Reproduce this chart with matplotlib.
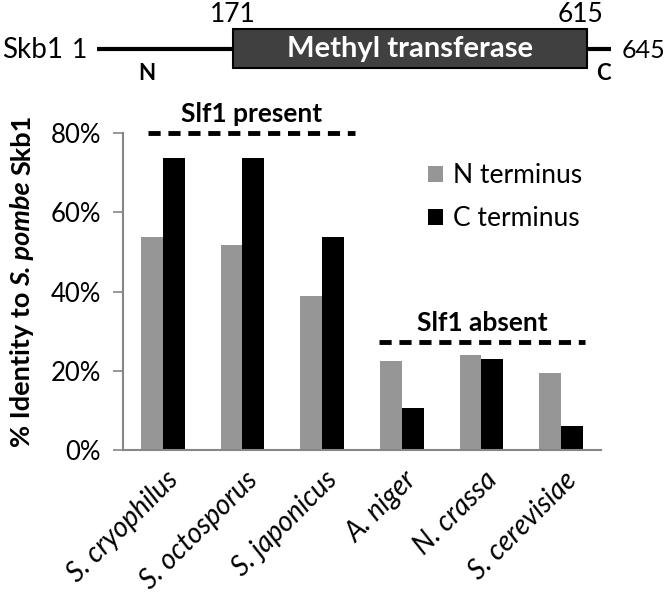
import matplotlib
matplotlib.use("Agg")
import matplotlib.pyplot as plt
import matplotlib.transforms as mtransforms
import numpy as np
from matplotlib.patches import Rectangle
from matplotlib.ticker import PercentFormatter

plt.rcParams['font.family'] = ['Lato', 'DejaVu Sans']

# ---------- data ----------
species = ["S. cryophilus", "S. octosporus", "S. japonicus",
           "A. niger", "N. crassa", "S. cerevisiae"]
n_term = [0.537, 0.518, 0.389, 0.224, 0.239, 0.194]
c_term = [0.738, 0.738, 0.537, 0.105, 0.229, 0.061]
series_labels = ["N terminus", "C terminus"]

# domain map of Skb1 (residues)
protein_len = 645
domain_start, domain_end = 171, 615
domain_name = "Methyl transferase"

# groups of species marked above the bars (x span in category units, y level)
group_names = ["Slf1 present", "Slf1 absent"]
group_spans = [(-0.19, 2.41), (2.71, 5.30)]
group_levels = [0.80, 0.273]

GRAY = "#969696"
AXIS_GRAY = "#868686"
W, H = 666, 597

fig = plt.figure(figsize=(W / 100, H / 100), dpi=100)


def px(x, y, w, h):
    # pixel box (from top-left) -> figure fraction
    return [x / W, 1 - (y + h) / H, w / W, h / H]


# ---------- top: domain diagram ----------
axt = fig.add_axes(px(97, 0, 514, 90))
axt.set_xlim(1, protein_len)
axt.set_ylim(90, 0)
axt.axis("off")
axt.plot([1, protein_len], [49, 49], color="black", lw=3, solid_capstyle="butt", zorder=1)
axt.add_patch(Rectangle((domain_start, 29), domain_end - domain_start, 39,
                        facecolor="#404040", edgecolor="black", lw=1.5, zorder=2))
axt.text((domain_start + domain_end) / 2, 49, domain_name, color="white",
         fontsize=21, fontweight="bold", ha="center", va="center", zorder=3)
axt.text(domain_start, 22, str(domain_start), fontsize=19, ha="center", va="baseline")
axt.text(domain_end - 8, 22, str(domain_end), fontsize=19, ha="center", va="baseline")
axt.text(-11, 50, "1", fontsize=19, ha="right", va="center", clip_on=False)
axt.text(protein_len + 13, 50, str(protein_len), fontsize=18, ha="left", va="center", clip_on=False)
axt.text(-41, 50, "Skb1", fontsize=20, ha="right", va="center", clip_on=False)
axt.text(63, 80, "N", fontsize=16, fontweight="bold", ha="center", va="baseline")
axt.text(636, 80, "C", fontsize=16, fontweight="bold", ha="center", va="baseline", clip_on=False)

# ---------- bar chart ----------
ax = fig.add_axes(px(123, 133, 478, 317))
x = np.arange(len(species))
bw = 0.272
b1 = ax.bar(x - bw / 2, n_term, bw, color=GRAY, label=series_labels[0])
b2 = ax.bar(x + bw / 2, c_term, bw, color="black", label=series_labels[1])

ax.set_xlim(-0.5, len(species) - 0.5)
ax.set_ylim(0, 0.8)
ax.set_yticks([0, 0.2, 0.4, 0.6, 0.8])
ax.yaxis.set_major_formatter(PercentFormatter(1.0, decimals=0))
ax.tick_params(axis="y", labelsize=18.5, length=7, width=1.2, color=AXIS_GRAY, pad=9)
ax.set_xticks(x)
ax.set_xticklabels(species, rotation=45, ha="right", va="top",
                   rotation_mode="anchor", fontsize=20, style="italic")
ax.tick_params(axis="x", length=0, pad=12)
shift = mtransforms.ScaledTranslation(2 / 100, 0, fig.dpi_scale_trans)
for lab in ax.get_xticklabels():
    lab.set_transform(lab.get_transform() + shift)
for s in ["top", "right"]:
    ax.spines[s].set_visible(False)
for s in ["left", "bottom"]:
    ax.spines[s].set_color(AXIS_GRAY)
    ax.spines[s].set_linewidth(1.5)

for name, (x0, x1), lvl in zip(group_names, group_spans, group_levels):
    ax.plot([x0, x1], [lvl, lvl], color="black", lw=3.5,
            linestyle=(0, (2.5, 1.6)), dash_capstyle="butt", clip_on=False)
    ax.annotate(name, xy=((x0 + x1) / 2, lvl), xytext=(0, 8), textcoords="offset points",
                ha="center", va="baseline", fontsize=19, fontweight="bold",
                annotation_clip=False)

ax.legend(handles=[b1, b2], loc="upper left", bbox_to_anchor=((428 - 123) / 478, (450 - 163) / 317),
          frameon=False, fontsize=19, handlelength=0.55, handleheight=0.55,
          handletextpad=0.4, labelspacing=0.7, borderaxespad=0, borderpad=0)

# ---------- y label with italic species name ----------
pieces = [("% Identity to", "normal"), ("S. pombe", "italic"), ("Skb1", "normal")]
fig.canvas.draw()
renderer = fig.canvas.get_renderer()
ypos = 1 - 447 / H
space = 6 / H
for txt, st in pieces:
    t = fig.text(30 / W, ypos, txt, rotation=90, rotation_mode="anchor",
                 ha="left", va="baseline", fontsize=19.5, fontweight="bold", style=st)
    bb = t.get_window_extent(renderer)
    ypos += bb.height / H + space

fig.savefig("out.png", dpi=100)
